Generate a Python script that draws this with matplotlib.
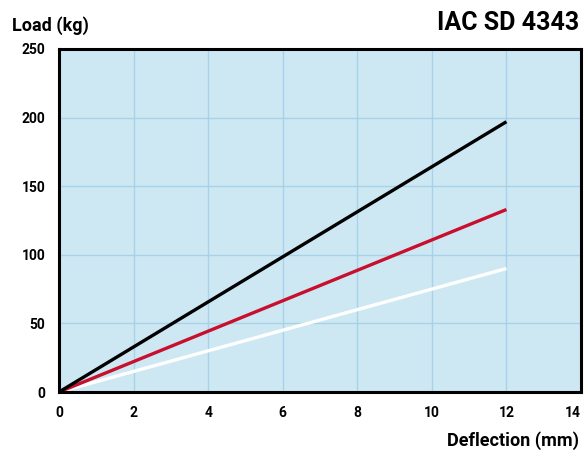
import matplotlib
matplotlib.use("Agg")
import matplotlib.pyplot as plt

deflection = [0, 12]
load_black = [0, 197]
load_red = [0, 133]
load_white = [0, 90]
x_ticks = [0, 2, 4, 6, 8, 10, 12, 14]
y_ticks = [0, 50, 100, 150, 200, 250]
title = "IAC SD 4343"
xlabel = "Deflection (mm)"
ylabel = "Load (kg)"

plt.rcParams['font.family'] = ['Roboto', 'DejaVu Sans']

fig = plt.figure(figsize=(5.87, 4.5), dpi=100)
ax = fig.add_axes([59/587, 1-392/450, (581-59)/587, (392-49)/450])
ax.set_facecolor('#cde8f3')
ax.set_xlim(0, 14)
ax.set_ylim(0, 250)
ax.set_xticks(x_ticks)
ax.set_yticks(y_ticks)
ax.grid(True, color='#a8d2ea', linewidth=1.0)
ax.set_axisbelow(True)
for s in ax.spines.values():
    s.set_linewidth(2.2)
    s.set_color('black')
ax.tick_params(length=0, labelsize=10, pad=10)
for lab in ax.get_xticklabels() + ax.get_yticklabels():
    lab.set_fontweight('bold')
ax.get_xticklabels()[-1].set_horizontalalignment('right')
ax.get_xticklabels()[-1].set_x(14.15)

ax.plot(deflection, load_white, color='white', lw=2.4, solid_capstyle='butt')
ax.plot(deflection, load_red, color='#c8102e', lw=2.4, solid_capstyle='butt')
ax.plot(deflection, load_black, color='black', lw=2.4, solid_capstyle='butt')

fig.text(12/587, 1-26/450, ylabel, fontsize=13, fontweight='bold', ha='left', va='center')
fig.text(579/587, 1-441/450, xlabel, fontsize=13, fontweight='bold', ha='right', va='center')
fig.text(579/587, 1-23/450, title, fontsize=18, fontweight='bold', ha='right', va='center')

fig.savefig('out.png', dpi=100)
